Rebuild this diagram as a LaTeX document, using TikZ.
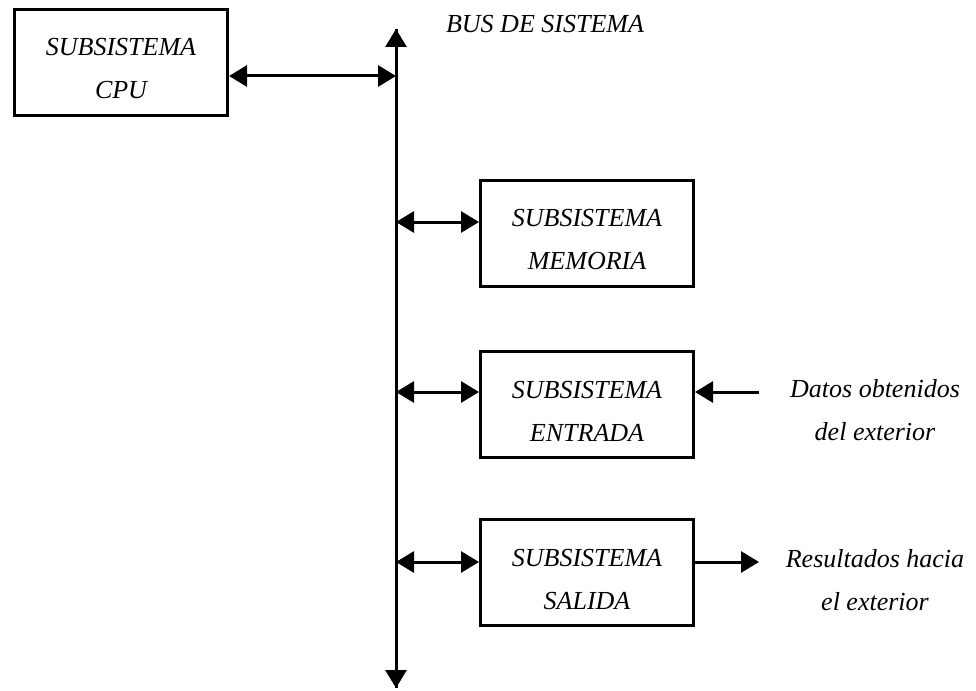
\documentclass[tikz,border=0pt]{standalone}
\usepackage{fontspec}
\setmainfont{Liberation Serif}
\usetikzlibrary{arrows.meta}
\tikzset{
  sbox/.style={draw=black, line width=3pt, minimum width=213pt, minimum height=106pt, inner sep=0pt},
  lbl/.style={font=\fontsize{26}{43}\selectfont\itshape, align=center, inner sep=0pt},
  conn/.style={line width=3pt},
  tip/.style={-{Triangle[length=18pt,width=21pt]}},
  bitip/.style={{Triangle[length=18pt,width=21pt]}-{Triangle[length=18pt,width=21pt]}},
}
\begin{document}
\begin{tikzpicture}[x=1pt,y=-1pt]
\useasboundingbox (0,0) rectangle (976,690);
% boxes
\node[sbox] (cpu) at (121,62.5) {};
\node[sbox] (mem) at (587,233) {};
\node[sbox] (ent) at (587,404) {};
\node[sbox] (sal) at (587,572.5) {};
% box texts
\node[lbl] (cput) at (121,69) {SUBSISTEMA\\CPU};
\node[lbl] (memt) at (587,240) {SUBSISTEMA\\MEMORIA};
\node[lbl] (entt) at (587,411) {SUBSISTEMA\\ENTRADA};
\node[lbl] (salt) at (587,580) {SUBSISTEMA\\SALIDA};
% bus
\coordinate (bt) at (396,29);
\coordinate (bb) at (396,688);
\draw[conn,tip] (bb) -- (bt);
\draw[conn,tip] (bt) -- (bb);
\node[lbl] (bus) at (545,24) {BUS DE SISTEMA};
% bus taps
\coordinate (b1) at (396,76);
\coordinate (b2) at (396,222);
\coordinate (b3) at (396,392);
\coordinate (b4) at (396,562);
\draw[conn,bitip] (cpu.east |- b1) -- (b1);
\draw[conn,bitip] (b2) -- (mem.west |- b2);
\draw[conn,bitip] (b3) -- (ent.west |- b3);
\draw[conn,bitip] (b4) -- (sal.west |- b4);
% external
\node[lbl] (datos) at (875,410) {Datos obtenidos\\del exterior};
\node[lbl] (res) at (875,580) {Resultados hacia\\el exterior};
\coordinate (din) at (759,392);
\coordinate (rout) at (759,562);
\draw[conn,tip] (din) -- (ent.east |- din);
\draw[conn,tip] (sal.east |- rout) -- (rout);
\end{tikzpicture}
\end{document}
